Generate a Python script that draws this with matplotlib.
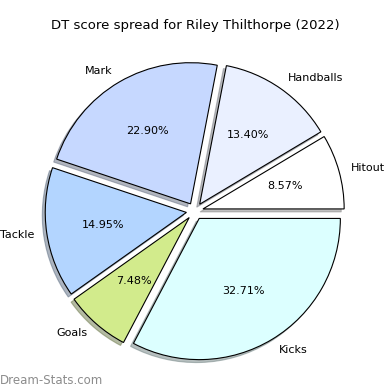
import matplotlib
matplotlib.use("Agg")
import matplotlib.pyplot as plt

labels = ["Hitout", "Handballs", "Mark", "Tackle", "Goals", "Kicks"]
shares = [8.57, 13.40, 22.90, 14.95, 7.48, 32.71]
colours = ["#ffffff", "#eaf0ff", "#c6d8ff", "#b3d5ff", "#d2eb8c", "#dcffff"]

fig = plt.figure(figsize=(3.9, 3.9), dpi=100)
ax = fig.add_axes([0.047, 0.006, 0.905, 0.905])

ax.pie(shares, labels=labels, colors=colours, autopct="%1.2f%%",
       startangle=0, counterclock=True, explode=[0.06] * len(shares),
       labeldistance=1.09,
       shadow={"ox": -0.015, "oy": -0.015, "shade": 0.5},
       wedgeprops={"edgecolor": "black", "linewidth": 0.8},
       textprops={"fontsize": 8})
ax.set_aspect("equal")

fig.suptitle("DT score spread for Riley Thilthorpe (2022)", fontsize=9.5, y=0.95)
fig.text(0.0, 0.015, "Dream-Stats.com", fontsize=8.5, color="#8c8c8c")

fig.savefig("out.png", dpi=100)
